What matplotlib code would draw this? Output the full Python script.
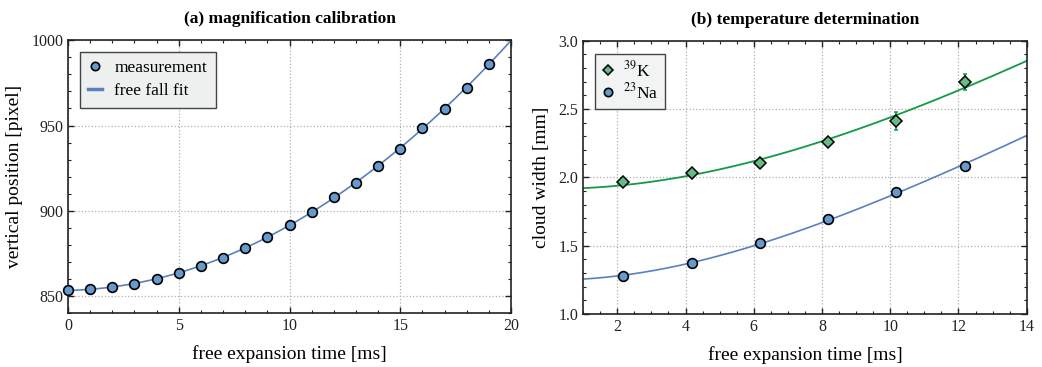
import numpy as np
import matplotlib
matplotlib.use("Agg")
import matplotlib.pyplot as plt
from matplotlib.ticker import MultipleLocator
from matplotlib.lines import Line2D

plt.rcParams['font.family'] = ['Liberation Serif', 'DejaVu Serif']
plt.rcParams['mathtext.fontset'] = 'stix'

# ---- data: panel (a) ----
t_cal = [0, 1, 2, 3, 4, 5, 6, 7, 8, 9, 10, 11, 12, 13, 14, 15, 16, 17, 18, 19]
y_cal = [853.5, 854.3, 855.6, 857.4, 860.3, 863.8, 867.8, 872.7, 878.3, 884.7,
         891.9, 899.2, 908.4, 916.3, 926.5, 936.4, 948.6, 959.7, 972.1, 986.2]

# ---- data: panel (b) ----
t_tof = [2.18, 4.18, 6.18, 8.18, 10.18, 12.18]
w_K = [1.969, 2.031, 2.108, 2.257, 2.411, 2.698]
w_K_err = [0.012, 0.012, 0.025, 0.012, 0.064, 0.057]
w_Na = [1.278, 1.373, 1.523, 1.697, 1.894, 2.084]
# fit parameters sigma(t) = sqrt(s0^2 + (v t)^2)
fit_K = (1.915, 0.151)
fit_Na = (1.248, 0.1385)

blue_fill = '#6699cc'
blue_line = '#5a80bf'
green_fill = '#66bb88'
green_line = '#159947'
grid_col = '#b0b0b0'

fig = plt.figure(figsize=(10.42, 3.67), dpi=100)
ax1 = fig.add_axes([0.0653, 0.1458, 0.4251, 0.745])
ax2 = fig.add_axes([0.5597, 0.1444, 0.4256, 0.7446])


def style(ax):
    ax.tick_params(which='both', direction='in', top=True, right=True,
                   labelsize=11.5, colors='#222222')
    ax.tick_params(which='major', length=4.5, width=1.0)
    ax.tick_params(which='minor', length=2.5, width=0.8)
    for s in ax.spines.values():
        s.set_linewidth(1.2)
        s.set_color('#222222')
    ax.grid(True, which='major', linestyle=':', color=grid_col, linewidth=0.9)
    ax.set_axisbelow(True)


# panel (a)
coef = np.polyfit(t_cal, y_cal, 2)
tt = np.linspace(0, 20, 300)
ax1.plot(tt, np.polyval(coef, tt), color=blue_line, lw=1.2, zorder=2)
ax1.plot(t_cal, y_cal, 'o', ms=7, mfc=blue_fill, mec='black', mew=1.2,
         zorder=3, clip_on=False)
ax1.set_xlim(0, 20)
ax1.set_ylim(840, 1000)
ax1.xaxis.set_major_locator(MultipleLocator(5))
ax1.xaxis.set_minor_locator(MultipleLocator(1))
ax1.yaxis.set_major_locator(MultipleLocator(50))
ax1.yaxis.set_minor_locator(MultipleLocator(10))
style(ax1)
ax1.set_xlabel('free expansion time [ms]', fontsize=14, labelpad=8)
ax1.set_ylabel('vertical position [pixel]', fontsize=14, labelpad=6)
ax1.set_title('(a) magnification calibration', fontsize=12.5, fontweight='bold', pad=12)
h1 = [Line2D([], [], ls='none', marker='o', ms=6, mfc=blue_fill, mec='black', mew=1.2),
      Line2D([], [], color=blue_line, lw=2.5)]
leg1 = ax1.legend(h1, ['measurement', 'free fall fit'], loc='upper left', fontsize=12.5,
                  frameon=True, fancybox=False, edgecolor='#444444', facecolor='#eef0f0',
                  framealpha=1, borderpad=0.5, handlelength=0.8, handletextpad=0.7,
                  bbox_to_anchor=(0.026, 0.958), labelspacing=0.4, borderaxespad=0)
leg1.get_frame().set_linewidth(1.0)

# panel (b)
tt2 = np.linspace(1, 14, 300)
ax2.plot(tt2, np.sqrt(fit_K[0] ** 2 + (fit_K[1] * tt2) ** 2), color=green_line, lw=1.3, zorder=2)
ax2.plot(tt2, np.sqrt(fit_Na[0] ** 2 + (fit_Na[1] * tt2) ** 2), color=blue_line, lw=1.2, zorder=2)
ax2.errorbar(t_tof, w_K, yerr=w_K_err, fmt='D', ms=6, mfc=green_fill, mec='black', mew=1.1,
             ecolor=green_line, elinewidth=1.2, capsize=1.5, capthick=1.0, zorder=3)
ax2.plot(t_tof, w_Na, 'o', ms=7, mfc=blue_fill, mec='black', mew=1.2, zorder=3)
ax2.set_xlim(1, 14)
ax2.set_ylim(1.0, 3.0)
ax2.xaxis.set_major_locator(MultipleLocator(2))
ax2.xaxis.set_minor_locator(MultipleLocator(0.5))
ax2.yaxis.set_major_locator(MultipleLocator(0.5))
ax2.yaxis.set_minor_locator(MultipleLocator(0.1))
style(ax2)
ax2.set_xlabel('free expansion time [ms]', fontsize=14, labelpad=8)
ax2.set_ylabel('cloud width [mm]', fontsize=14, labelpad=6)
ax2.set_title('(b) temperature determination', fontsize=12.5, fontweight='bold', pad=12)
h2 = [Line2D([], [], ls='none', marker='D', ms=5, mfc=green_fill, mec='black', mew=1.1),
      Line2D([], [], ls='none', marker='o', ms=6, mfc=blue_fill, mec='black', mew=1.2)]
leg2 = ax2.legend(h2, [r'$^{39}$K', r'$^{23}$Na'], loc='upper left', fontsize=12.5,
                  frameon=True, fancybox=False, edgecolor='#444444', facecolor='#f2f4f4',
                  framealpha=1, borderpad=0.35, handlelength=0.8, handletextpad=0.5,
                  bbox_to_anchor=(0.026, 0.95), labelspacing=0.12, borderaxespad=0)
leg2.get_frame().set_linewidth(1.0)

fig.savefig('out.png', dpi=100)
